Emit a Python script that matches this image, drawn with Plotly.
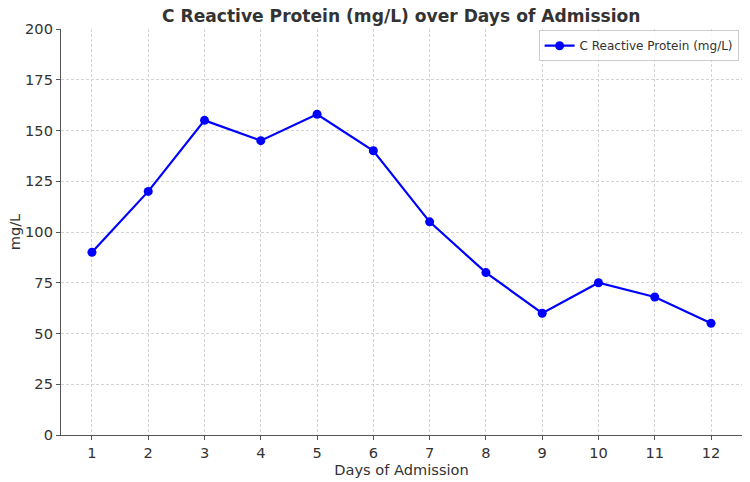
import plotly.graph_objects as go

days = [1, 2, 3, 4, 5, 6, 7, 8, 9, 10, 11, 12]
crp = [90, 120, 155, 145, 158, 140, 105, 80, 60, 75, 68, 55]
y_ticks = [0, 25, 50, 75, 100, 125, 150, 175, 200]

fig = go.Figure()
fig.add_trace(go.Scatter(
    x=days, y=crp, mode="lines+markers",
    name="C Reactive Protein (mg/L)",
    line=dict(color="#0000ff", width=2.2),
    marker=dict(color="#0000ff", size=9),
))

font = "DejaVu Sans"
fig.update_layout(
    width=750, height=482,
    margin=dict(l=61, r=8, t=29, b=47),
    paper_bgcolor="white", plot_bgcolor="white",
    font=dict(family=font, color="#333333", size=14.6),
    title=dict(text="<b>C Reactive Protein (mg/L) over Days of Admission</b>",
               x=0.535, xanchor="center", y=0.966, yanchor="middle",
               font=dict(size=17.1, color="#333333", family=font)),
    showlegend=True,
    legend=dict(x=0.995, y=0.997, xanchor="right", yanchor="top",
                bgcolor="rgba(255,255,255,0.8)", bordercolor="#cccccc", borderwidth=1,
                font=dict(size=12, color="#333333", family=font)),
    xaxis=dict(
        range=[0.45, 12.55], tickmode="array", tickvals=days,
        ticktext=[str(d) for d in days],
        showgrid=True, gridcolor="#d3d3d3", griddash="3px,2px", gridwidth=0.8,
        showline=True, linecolor="#555555", linewidth=1.3,
        ticks="outside", ticklen=4, tickcolor="#555555",
        title=dict(text="Days of Admission", font=dict(size=14.6), standoff=0),
        tickfont=dict(size=14.6), zeroline=False,
    ),
    yaxis=dict(
        range=[0, 200], tickmode="array", tickvals=y_ticks,
        showgrid=True, gridcolor="#d3d3d3", griddash="3px,2px", gridwidth=0.8,
        showline=True, linecolor="#555555", linewidth=1.3,
        ticks="outside", ticklen=4, tickcolor="#555555",
        title=dict(text="mg/L", font=dict(size=14.6), standoff=0),
        tickfont=dict(size=14.6), zeroline=False,
    ),
)

fig.write_html("out.html")
